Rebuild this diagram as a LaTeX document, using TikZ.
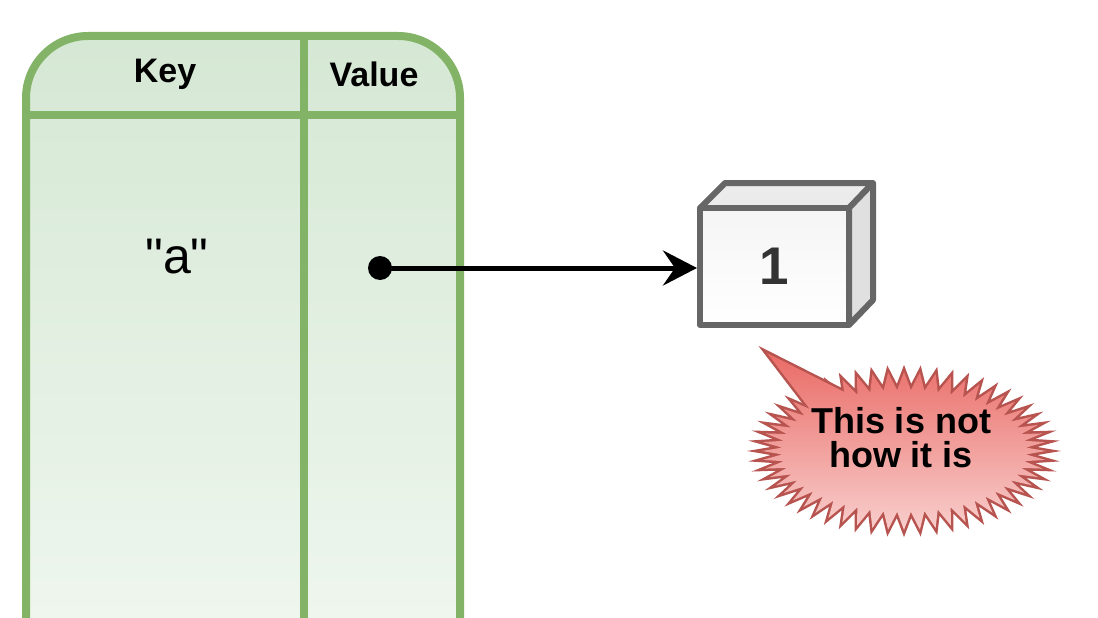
\documentclass[tikz,border=0pt]{standalone}
\usepackage{fontspec}
\setmainfont{Liberation Sans}
\newfontfamily\plainsans{Liberation Sans}
\usetikzlibrary{arrows.meta}
\definecolor{tgreen}{HTML}{82B366}
\definecolor{tgreenfill}{HTML}{D5E8D4}
\definecolor{cgrey}{HTML}{666666}
\definecolor{ctext}{HTML}{333333}
\definecolor{rstroke}{HTML}{B85450}
\definecolor{rtop}{HTML}{EA6B66}
\definecolor{rbot}{HTML}{F8CECC}
\tikzset{
  hdr/.style={font=\fontsize{34}{40}\selectfont\bfseries, inner sep=0pt, anchor=base},
  tline/.style={draw=tgreen, line width=8pt},
  cubeface/.style={draw=cgrey, line width=6pt, line join=round},
  callouttext/.style={font=\fontsize{36}{42}\selectfont\bfseries, inner sep=0pt, anchor=base},
}
\begin{document}
\begin{tikzpicture}[x=1pt,y=-1pt]
\useasboundingbox (0,0) rectangle (1098,618);
\clip (0,0) rectangle (1098,618);
\fill[white] (0,0) rectangle (1098,618);
% table
\shade[top color=tgreenfill, bottom color=white, rounded corners=62pt]
  (26,1006) -- (26,36) -- (460,36) -- (460,1006) -- cycle;
\draw[tline, rounded corners=62pt] (26,1006) -- (26,36) -- (460,36) -- (460,1006);
\draw[tline] (26,115) -- (460,115);
\draw[tline] (304,36) -- (304,1006);
\node[hdr] (key) at (165,82) {Key};
\node[hdr] (val) at (374,87) {Value};
\node[font=\plainsans\fontsize{50}{56}\selectfont, inner sep=0pt, anchor=base] (ka) at (177,273) {"a"};
% cube
\path[cubeface, fill=black!8] (700,208) -- (725,183) -- (873,183) -- (849,208) -- cycle;
\path[cubeface, fill=black!12] (849,208) -- (873,183) -- (873,300) -- (849,325) -- cycle;
\node[cubeface, top color=black!4, bottom color=white, minimum width=149pt, minimum height=117pt,
      inner sep=0pt, text=ctext, font=\fontsize{53}{60}\selectfont\bfseries] (cube) at (774.5,266.5) {1};
% arrow
\node[circle, fill=black, inner sep=0pt, minimum size=24pt] (dot) at (380,268) {};
\draw[line width=5pt, -{Stealth[length=34pt,width=35pt,inset=12pt]}] (dot.center) -- (dot.center -| cube.west);
% callout
\draw[rstroke, line width=5pt, line join=miter]
  (1046,451) \foreach \k in {1,...,111} {
    -- ({904+ifthenelse(mod(\k,2)==0,142,122)*cos(360/112*\k)}, {451+ifthenelse(mod(\k,2)==0,79,61)*sin(360/112*\k)})
  } -- cycle;
\draw[rstroke, line width=5pt, line join=miter] (767,353) -- (876,408) -- (832,438) -- cycle;
\shade[top color=rtop, bottom color=rbot]
  (1046,451) \foreach \k in {1,...,111} {
    -- ({904+ifthenelse(mod(\k,2)==0,142,122)*cos(360/112*\k)}, {451+ifthenelse(mod(\k,2)==0,79,61)*sin(360/112*\k)})
  } -- cycle
  (767,353) -- (876,408) -- (832,438) -- cycle;
\node[callouttext] (c1) at (901,433) {This is not};
\node[callouttext] (c2) at (901,467) {how it is};
\end{tikzpicture}
\end{document}
